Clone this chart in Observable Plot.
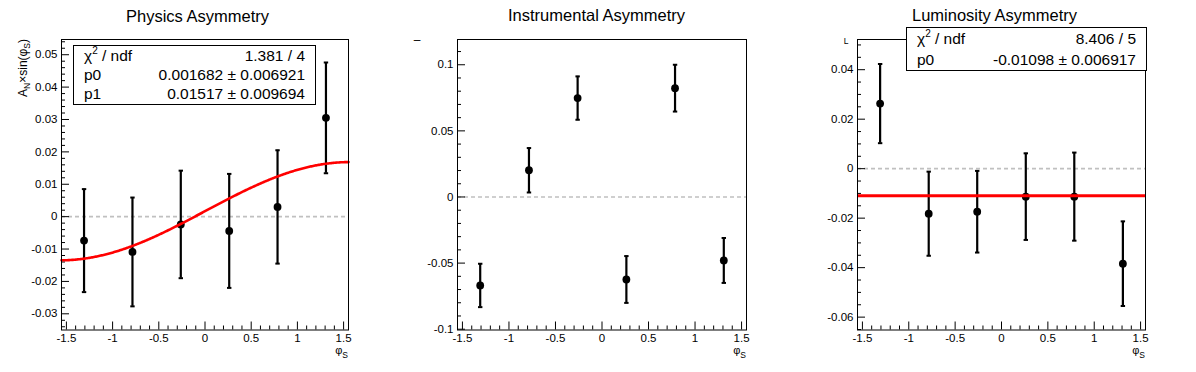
<!DOCTYPE html>
<html><head><meta charset="utf-8">
<script src="https://cdn.jsdelivr.net/npm/d3@7"></script>
<script src="https://cdn.jsdelivr.net/npm/@observablehq/plot@0.6"></script>
<style>
html,body{margin:0;padding:0;background:#fff;}
#root{position:relative;width:1196px;height:372px;overflow:hidden;font-family:"Liberation Sans",Arial,Helvetica,sans-serif;color:#000;}
.pad{position:absolute;top:0;}
.stats{position:absolute;background:#fff;border:1px solid #000;box-sizing:border-box;font-size:15.5px;padding:0 10px 0 10px;display:flex;flex-direction:column;}
.stats .row{display:flex;justify-content:space-between;align-items:center;flex:1;white-space:nowrap;}
.stats sup{font-size:10px;vertical-align:7px;line-height:0;}
</style></head><body><div id="root"></div>
<script>
// ---- data ----
const phiBins = [-1.309, -0.785, -0.262, 0.262, 0.785, 1.309];
const physY   = [-0.0074, -0.0109, -0.0024, -0.0044, 0.0030, 0.0305];
const physErr = [0.0159, 0.0168, 0.0166, 0.0176, 0.0175, 0.0171];
const instY   = [-0.0669, 0.0202, 0.0748, -0.0624, 0.0823, -0.0480];
const instErr = [0.0164, 0.0168, 0.0164, 0.0177, 0.0177, 0.0170];
const lumiY   = [0.0263, -0.0182, -0.0174, -0.0113, -0.0113, -0.0384];
const lumiErr = [0.0160, 0.0170, 0.0165, 0.0175, 0.0178, 0.0171];

// fit results shown in the stats boxes
const physFitP0 = 0.001682, physFitP1 = 0.01517;
const lumiFitP0 = -0.01098;

const titles = ["Physics Asymmetry", "Instrumental Asymmetry", "Luminosity Asymmetry"];
const physStats = [["χ<sup>2</sup> / ndf", "1.381 / 4"], ["p0", "0.001682 ± 0.006921"], ["p1", "0.01517 ± 0.009694"]];
const lumiStats = [["χ<sup>2</sup> / ndf", "8.406 / 5"], ["p0", "-0.01098 ± 0.006917"]];

const xTicks = [-1.5, -1, -0.5, 0, 0.5, 1, 1.5];
const physYTicks = [-0.03, -0.02, -0.01, 0, 0.01, 0.02, 0.03, 0.04, 0.05];
const instYTicks = [-0.1, -0.05, 0, 0.05, 0.1];
const lumiYTicks = [-0.06, -0.04, -0.02, 0, 0.02, 0.04];

const xDomain = [-1.553, 1.553];
const physYDomain = [-0.0350, 0.0547];
const instYDomain = [-0.1006, 0.1191];
const lumiYDomain = [-0.0652, 0.0522];

// ---- helpers ----
const FONT = '"Liberation Sans", Arial, Helvetica, sans-serif';
const round = v => Math.round(v * 1e6) / 1e6;
const minorTicks = (dom, step, majors) => d3.range(Math.ceil(dom[0] / step), Math.floor(dom[1] / step) + 1)
  .map(i => round(i * step)).filter(v => !majors.some(m => Math.abs(m - v) < step / 10));
const capSymbol = {draw(ctx, size) { const r = Math.sqrt(size / Math.PI); ctx.moveTo(-r, 0); ctx.lineTo(r, 0); }};
const rows = (ys, es) => phiBins.map((x, i) => ({x, y: ys[i], e: es[i]}));

function makePanel({left, width, mL, mR, yDomain, yTicks, yStep, data, extra = []}) {
  const xMinor = minorTicks(xDomain, 0.1, xTicks);
  const yMinor = minorTicks(yDomain, yStep, yTicks);
  const plot = Plot.plot({
    width, height: 372,
    marginLeft: mL, marginRight: mR, marginTop: 39, marginBottom: 42.5,
    x: {domain: xDomain},
    y: {domain: yDomain},
    style: {fontFamily: FONT, fontSize: "11.5px", color: "black", background: "transparent", overflow: "visible"},
    marks: [
      Plot.ruleY([0], {stroke: "#c0c0c0", strokeWidth: 1.6, strokeDasharray: "4,3"}),
      Plot.axisX(xMinor, {tickSize: -4, fill: "none", label: null, strokeWidth: 1}),
      Plot.axisX(xTicks, {tickSize: -8, fill: "none", label: null, strokeWidth: 1}),
      Plot.axisX(xTicks, {tickSize: 0, tickPadding: 4, tickFormat: d => String(d), label: null}),
      Plot.axisY(yMinor, {tickSize: -4, fill: "none", label: null, strokeWidth: 1}),
      Plot.axisY(yTicks, {tickSize: -8, fill: "none", label: null, strokeWidth: 1}),
      Plot.axisY(yTicks, {tickSize: 0, tickPadding: 4, tickFormat: d => String(d), label: null}),
      Plot.ruleX(data, {x: "x", y1: d => d.y - d.e, y2: d => d.y + d.e, stroke: "black", strokeWidth: 2.2}),
      Plot.dot(data, {x: "x", y: d => d.y - d.e, symbol: capSymbol, r: 2.2, fill: "none", stroke: "black", strokeWidth: 2}),
      Plot.dot(data, {x: "x", y: d => d.y + d.e, symbol: capSymbol, r: 2.2, fill: "none", stroke: "black", strokeWidth: 2}),
      Plot.dot(data, {x: "x", y: "y", r: 3.9, fill: "black", stroke: "none"}),
      ...extra,
      Plot.frame({stroke: "black", strokeWidth: 1})
    ]
  });
  const div = document.createElement("div");
  div.className = "pad";
  div.style.left = left + "px";
  div.appendChild(plot);
  document.getElementById("root").appendChild(div);
  return {svg: d3.select(plot), frameRight: width - mR};
}

function addTitle(p, text, width, y) {
  p.svg.append("text").attr("x", width / 2 - 2).attr("y", y).attr("text-anchor", "middle")
    .style("font-size", "16.5px").style("font-family", FONT).attr("fill", "black").text(text);
}
function addXTitle(p) {
  const t = p.svg.append("text").attr("x", p.frameRight).attr("y", 354).attr("text-anchor", "end")
    .style("font-size", "11px").style("font-family", FONT).attr("fill", "black");
  t.append("tspan").text("φ");
  t.append("tspan").attr("dy", 4).style("font-size", "8.5px").text("S");
}
function addStats(lines, box) {
  const d = document.createElement("div");
  d.className = "stats";
  Object.assign(d.style, {left: box.l + "px", top: box.t + "px", width: box.w + "px", height: box.h + "px"});
  d.innerHTML = lines.map(([a, b]) => `<div class="row"><span>${a}</span><span>${b}</span></div>`).join("");
  document.getElementById("root").appendChild(d);
}

// ---- panel 1: physics ----
const physCurve = d3.range(0, 301).map(i => xDomain[0] + (xDomain[1] - xDomain[0]) * i / 300)
  .map(x => ({x, y: physFitP0 + physFitP1 * Math.sin(x)}));
const p1 = makePanel({left: 0, width: 399, mL: 61, mR: 51, yDomain: physYDomain, yTicks: physYTicks, yStep: 0.002,
  data: rows(physY, physErr),
  extra: [Plot.line(physCurve, {x: "x", y: "y", stroke: "#ff0000", strokeWidth: 2.6})]});
addTitle(p1, titles[0], 399, 21.5);
addXTitle(p1);
{
  const t = p1.svg.append("text").attr("transform", "translate(26.5,39) rotate(-90)").attr("text-anchor", "end")
    .style("font-size", "12px").style("font-family", FONT).attr("fill", "black");
  t.append("tspan").text("A");
  t.append("tspan").attr("dy", 3).style("font-size", "8.5px").text("N");
  t.append("tspan").attr("dy", -3).text("×sin(φ");
  t.append("tspan").attr("dy", 3).style("font-size", "8.5px").text("S");
  t.append("tspan").attr("dy", -3).text(")");
}
addStats(physStats, {l: 73, t: 45, w: 243, h: 60});

// ---- panel 2: instrumental ----
const p2 = makePanel({left: 399, width: 399, mL: 58, mR: 52, yDomain: instYDomain, yTicks: instYTicks, yStep: 0.01,
  data: rows(instY, instErr)});
addTitle(p2, titles[1], 399, 20.5);
addXTitle(p2);
p2.svg.append("text").attr("x", 18).attr("y", 44).style("font-size", "12px").style("font-family", FONT).attr("fill", "black").text("–");

// ---- panel 3: luminosity ----
const p3 = makePanel({left: 797, width: 399, mL: 60, mR: 51, yDomain: lumiYDomain, yTicks: lumiYTicks, yStep: 0.005,
  data: rows(lumiY, lumiErr),
  extra: [Plot.ruleY([lumiFitP0], {stroke: "#ff0000", strokeWidth: 3})]});
addTitle(p3, titles[2], 399, 20.5);
addXTitle(p3);
p3.svg.append("text").attr("x", 49).attr("y", 43.5).style("font-size", "8.5px").style("font-family", FONT).attr("fill", "black").text("L");
addStats(lumiStats, {l: 906, t: 27, w: 241, h: 44});
</script></body></html>
